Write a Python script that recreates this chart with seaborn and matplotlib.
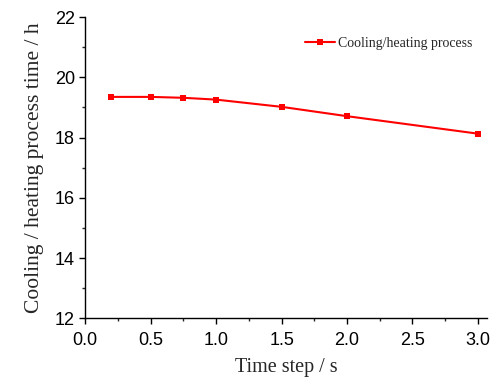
import matplotlib
matplotlib.use("Agg")
import matplotlib.pyplot as plt
from matplotlib.ticker import MultipleLocator
import seaborn as sns
import pandas as pd

time_step = [0.2, 0.5, 0.75, 1.0, 1.5, 2.0, 3.0]
process_time = [19.35, 19.35, 19.32, 19.26, 19.02, 18.71, 18.13]
series_name = "Cooling/heating process"

sns.set_style("ticks")
plt.rcParams["font.family"] = ["Liberation Sans", "DejaVu Sans"]

df = pd.DataFrame({"t": time_step, "h": process_time, "s": series_name})

fig, ax = plt.subplots(figsize=(4.9, 3.79), dpi=100)
fig.subplots_adjust(left=0.174, right=0.994, top=0.955, bottom=0.16)

sns.lineplot(data=df, x="t", y="h", hue="s", palette=["#ff0000"], marker="s",
             markersize=5, markeredgewidth=0, linewidth=1.5, ax=ax)

ax.set_xlim(0, 3.07)
ax.set_ylim(12, 22)
ax.xaxis.set_major_locator(MultipleLocator(0.5))
ax.xaxis.set_minor_locator(MultipleLocator(0.25))
ax.yaxis.set_major_locator(MultipleLocator(2))
ax.yaxis.set_minor_locator(MultipleLocator(1))
ax.tick_params(which="major", length=4, width=1, labelsize=13, colors="black", direction="out")
ax.tick_params(axis="x", which="major", pad=6)
ax.tick_params(which="minor", length=2.5, width=1, direction="out")
ax.set_xticklabels([f"{v:.1f}" for v in ax.get_xticks()])
sns.despine(ax=ax)
for sp in ("left", "bottom"):
    ax.spines[sp].set_color("black")
    ax.spines[sp].set_linewidth(1)

serif = ["Liberation Serif", "DejaVu Serif"]
ax.set_xlabel("Time step / s", family=serif, fontsize=14.5, labelpad=6)
ax.set_ylabel("Cooling / heating process time / h", family=serif, fontsize=15.5, labelpad=8)

leg = ax.legend(loc="upper right", bbox_to_anchor=(0.995, 0.975), frameon=False,
                prop={"family": serif, "size": 10}, handlelength=2.2, handletextpad=0.2)

fig.savefig("out.png", dpi=100)
